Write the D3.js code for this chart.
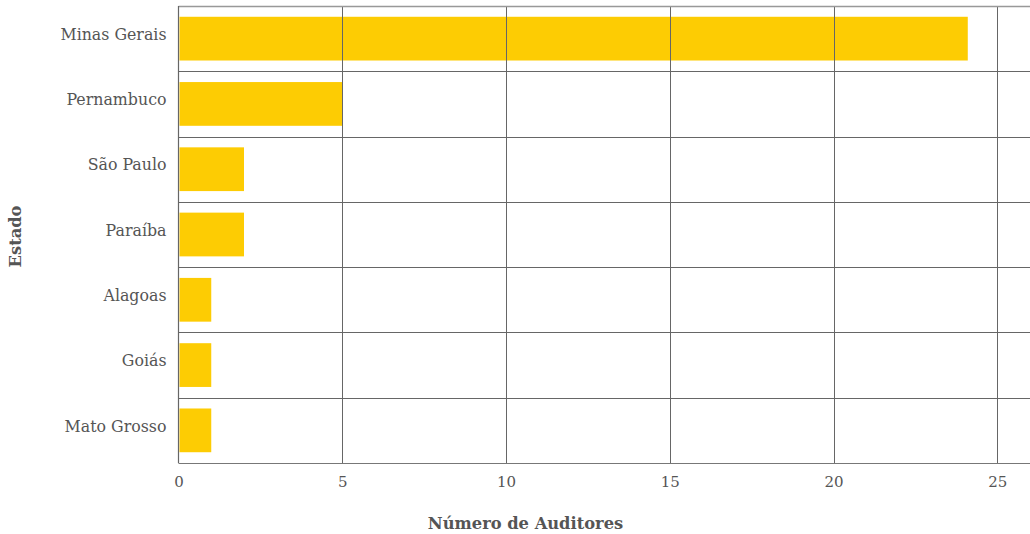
<!DOCTYPE html>
<html><head><meta charset="utf-8">
<script src="https://cdn.jsdelivr.net/npm/d3@7"></script>
<style>body{margin:0;background:#fff}svg{display:block}text{font-family:"DejaVu Serif",serif}</style>
</head><body><svg id="c" width="1030" height="534"></svg>
<script>
const categories = ["Minas Gerais","Pernambuco","São Paulo","Paraíba","Alagoas","Goiás","Mato Grosso"];
const values = [24.1,5,2,2,1,1,1];
const xTicks = [0,5,10,15,20,25];
const xTitle = "Número de Auditores";
const yTitle = "Estado";

const svg = d3.select("#c");
const m = {l:178.5, r:1030, t:6, b:463};
const x = d3.scaleLinear().domain([0,26]).range([m.l, m.r]);
const y = d3.scaleBand().domain(categories).range([m.t, m.b]).paddingInner(0.33).paddingOuter(0.165);
const band = d3.scaleBand().domain(categories).range([m.t, m.b]);

// bars
svg.append("g").selectAll("rect").data(values).join("rect")
  .attr("x", x(0)+1).attr("y",(d,i)=>y(categories[i]))
  .attr("width",d=>x(d)-x(0)-1).attr("height",y.bandwidth())
  .attr("fill","#fdcc03");

// vertical grid
svg.append("g").selectAll("line").data(xTicks.filter(t=>t>0)).join("line")
  .attr("x1",d=>Math.round(x(d))+0.5).attr("x2",d=>Math.round(x(d))+0.5)
  .attr("y1",m.t).attr("y2",m.b).attr("stroke","#666").attr("stroke-width",1);

// horizontal row separators
const seps = categories.slice(1).map(c=>band(c));
svg.append("g").selectAll("line").data(seps).join("line")
  .attr("x1",m.l).attr("x2",m.r).attr("y1",d=>Math.round(d)+0.5).attr("y2",d=>Math.round(d)+0.5)
  .attr("stroke","#666").attr("stroke-width",1);
// top line
svg.append("line").attr("x1",m.l).attr("x2",m.r).attr("y1",m.t+0.5).attr("y2",m.t+0.5)
  .attr("stroke","#999").attr("stroke-width",1.5);
// bottom axis line
svg.append("line").attr("x1",m.l).attr("x2",m.r).attr("y1",m.b+0.5).attr("y2",m.b+0.5)
  .attr("stroke","#777").attr("stroke-width",1.2);
// left axis line
svg.append("line").attr("x1",m.l).attr("x2",m.l).attr("y1",m.t).attr("y2",m.b)
  .attr("stroke","#666").attr("stroke-width",1.2);

// x axis labels
const xa = svg.append("g").attr("transform",`translate(0,${m.b})`)
  .call(d3.axisBottom(x).tickValues(xTicks).tickSize(0).tickPadding(13));
xa.select(".domain").remove();
xa.selectAll("text").attr("font-family","DejaVu Serif").attr("font-size",15).attr("fill","#555");

// y axis labels
const ya = svg.append("g").attr("transform",`translate(${m.l},0)`)
  .call(d3.axisLeft(band).tickSize(0).tickPadding(12));
ya.select(".domain").remove();
ya.selectAll("text").attr("font-family","DejaVu Serif").attr("font-size",15.8).attr("fill","#555").attr("dy","0.08em");

svg.append("text").attr("x",525.5).attr("y",529).attr("text-anchor","middle")
  .attr("font-size",16.3).attr("font-weight","bold").attr("fill","#555").text(xTitle);
svg.append("text").attr("transform",`translate(21,${(m.t+m.b)/2+2}) rotate(-90)`).attr("text-anchor","middle")
  .attr("font-size",16.3).attr("font-weight","bold").attr("fill","#555").text(yTitle);
</script></body></html>
